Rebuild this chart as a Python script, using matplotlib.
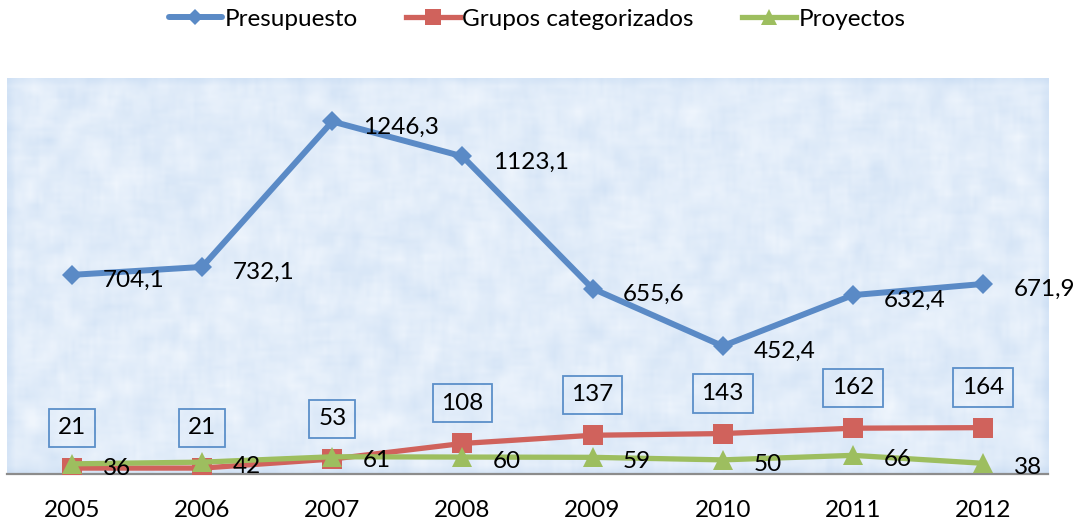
import numpy as np
import matplotlib
matplotlib.use('Agg')
import matplotlib.pyplot as plt

plt.rcParams['font.family'] = ['Lato', 'DejaVu Sans']

years = ["2005", "2006", "2007", "2008", "2009", "2010", "2011", "2012"]
presupuesto = [704.1, 732.1, 1246.3, 1123.1, 655.6, 452.4, 632.4, 671.9]
grupos = [21, 21, 53, 108, 137, 143, 162, 164]
proyectos = [36, 42, 61, 60, 59, 50, 66, 38]

BLUE = "#5A8AC6"
RED = "#D0625C"
GREEN = "#9DBE5F"
FS = 17.5


def fmt(v):
    # decimal comma, one digit
    return f"{v:.1f}".replace(".", ",")


def paper_texture(h, w):
    # soft light-blue mottled fill for the plot area
    rng = np.random.default_rng(7)
    noise = rng.random((h, w))
    k = np.ones(5) / 5
    for axis in (0, 1):
        noise = np.apply_along_axis(lambda r: np.convolve(r, k, mode="same"), axis, noise)
    noise = (noise - noise.min()) / (noise.max() - noise.min())
    lo = np.array([205, 223, 244]) / 255
    hi = np.array([240, 246, 253]) / 255
    return lo + (hi - lo) * noise[..., None]


fig = plt.figure(figsize=(10.74, 5.25), dpi=100)
ax = fig.add_axes([0.0065, 0.0971, 0.9693, 0.7543])

x = np.arange(len(years))
ax.set_xlim(-0.5, len(years) - 0.5)
ax.set_ylim(0, 1400)

ax.imshow(paper_texture(110, 290), extent=(0, 1, 0, 1), transform=ax.transAxes,
          aspect="auto", interpolation="bilinear", zorder=0)

ax.plot(x, presupuesto, color=BLUE, lw=4.3, marker="D", ms=10.5, mew=0,
        label="Presupuesto", zorder=3, solid_capstyle="round")
ax.plot(x, grupos, color=RED, lw=3.8, marker="s", ms=14, mew=0,
        label="Grupos categorizados", zorder=4)
ax.plot(x, proyectos, color=GREEN, lw=3.8, marker="^", ms=15, mew=0,
        label="Proyectos", zorder=5)

for xi, v in zip(x, presupuesto):
    ax.annotate(fmt(v), (xi, v), xytext=(22, -4), textcoords="offset points",
                ha="left", va="center", fontsize=FS, zorder=6, annotation_clip=False)

for xi, v in zip(x, proyectos):
    ax.annotate(str(v), (xi, v), xytext=(22, -3), textcoords="offset points",
                ha="left", va="center", fontsize=FS, zorder=6, annotation_clip=False)

for xi, v in zip(x, grupos):
    ax.annotate(str(v), (xi, v), xytext=(0, 29), textcoords="offset points",
                ha="center", va="center", fontsize=FS, zorder=6,
                bbox=dict(boxstyle="square,pad=0.36", fc="none", ec="#5B8FC9", lw=1.3))

ax.set_xticks(x)
ax.set_xticklabels(years, fontsize=FS)
ax.tick_params(axis="x", length=0, pad=19)
ax.set_yticks([])
for s in ("left", "right", "top"):
    ax.spines[s].set_visible(False)
ax.spines["bottom"].set_color("#8C8C8C")
ax.spines["bottom"].set_linewidth(1.6)
ax.spines["bottom"].set_zorder(2)

fig.legend(loc="upper center", bbox_to_anchor=(0.5, 1.025), ncol=3, frameon=False,
           fontsize=FS, handlelength=2.2, handletextpad=0.1, columnspacing=2.0,
           markerscale=0.8)

fig.savefig("out.png", dpi=100)
